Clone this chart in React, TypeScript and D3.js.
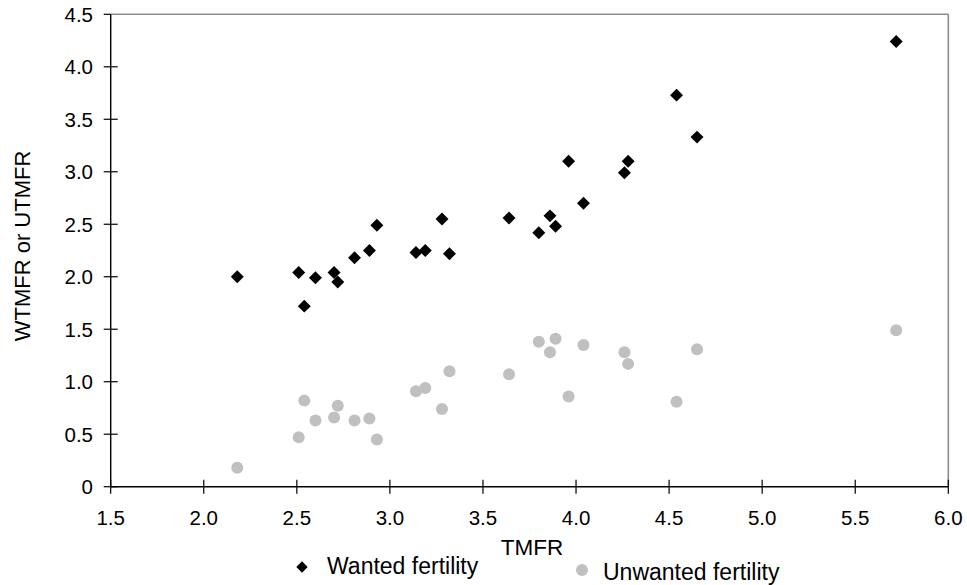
import React from 'react'
import * as d3 from 'd3'

// TMFR (x) with wanted / unwanted fertility (y)
const tmfr = [2.18, 2.51, 2.54, 2.60, 2.70, 2.72, 2.81, 2.89, 2.93, 3.14, 3.19, 3.28, 3.32,
  3.64, 3.80, 3.86, 3.89, 3.96, 4.04, 4.26, 4.28, 4.54, 4.65, 5.72]
const wanted = [2.00, 2.04, 1.72, 1.99, 2.04, 1.95, 2.18, 2.25, 2.49, 2.23, 2.25, 2.55, 2.22,
  2.56, 2.42, 2.58, 2.48, 3.10, 2.70, 2.99, 3.10, 3.73, 3.33, 4.24]
const unwanted = [0.18, 0.47, 0.82, 0.63, 0.66, 0.77, 0.63, 0.65, 0.45, 0.91, 0.94, 0.74, 1.10,
  1.07, 1.38, 1.28, 1.41, 0.86, 1.35, 1.28, 1.17, 0.81, 1.31, 1.49]

const xTicks = [1.5, 2.0, 2.5, 3.0, 3.5, 4.0, 4.5, 5.0, 5.5, 6.0]
const yTicks = [0, 0.5, 1.0, 1.5, 2.0, 2.5, 3.0, 3.5, 4.0, 4.5]

const W = 967, H = 585
const left = 110.7, right = 948.3, top = 14.3, bottom = 486.7
const font = '"Liberation Sans", Arial, sans-serif'

export default function App() {
  const x = d3.scaleLinear().domain([1.5, 6.0]).range([left, right])
  const y = d3.scaleLinear().domain([0, 4.5]).range([bottom, top])
  const diamond = d3.symbol().type(d3.symbolSquare).size(84)()
  const legendDiamond = d3.symbol().type(d3.symbolSquare).size(64)()

  const fmt = (v: number) => (v === 0 ? '0' : v.toFixed(1))

  return (
    <svg width={W} height={H} style={{ position: 'absolute', left: 0, top: 0 }} fontFamily={font}>
      <rect width={W} height={H} fill="#fff" />
      {/* frame: grey top and right */}
      <line x1={left} x2={right} y1={top} y2={top} stroke="#8c8c8c" strokeWidth={1.6} />
      <line x1={right} x2={right} y1={top} y2={bottom} stroke="#8c8c8c" strokeWidth={1.6} />
      {/* axes */}
      <line x1={left} x2={left} y1={top} y2={bottom} stroke="#000" strokeWidth={1.4} />
      <line x1={left} x2={right} y1={bottom} y2={bottom} stroke="#000" strokeWidth={1.4} />
      {yTicks.map(t => (
        <g key={'y' + t}>
          <line x1={left - 7} x2={t === 4.5 ? left : left + 7} y1={y(t)} y2={y(t)} stroke="#000" strokeWidth={1.2} />
          <text x={93} y={y(t) + 7.5} textAnchor="end" fontSize={20.5} fill="#000">{fmt(t)}</text>
        </g>
      ))}
      {xTicks.map(t => (
        <g key={'x' + t}>
          <line x1={x(t)} x2={x(t)} y1={bottom - 7} y2={bottom + 7} stroke="#000" strokeWidth={1.2} />
          <text x={x(t)} y={bottom + 38} textAnchor="middle" fontSize={20.5} fill="#000">{fmt(t)}</text>
        </g>
      ))}
      {/* points */}
      {tmfr.map((t, i) => (
        <circle key={'u' + i} cx={x(t)} cy={y(unwanted[i])} r={6} fill="#c0c0c0" />
      ))}
      {tmfr.map((t, i) => (
        <path key={'w' + i} d={diamond!} transform={`translate(${x(t)},${y(wanted[i])}) rotate(45)`} fill="#000" />
      ))}
      {/* titles */}
      <text x={532} y={555} textAnchor="middle" fontSize={22.5} fill="#000">TMFR</text>
      <text transform="translate(30,246) rotate(-90)" textAnchor="middle" fontSize={22} fill="#000">WTMFR or UTMFR</text>
      {/* legend */}
      <path d={legendDiamond!} transform="translate(302,567) rotate(45)" fill="#000" />
      <text x={327} y={574} fontSize={23} fill="#000">Wanted fertility</text>
      <circle cx={582} cy={570} r={6} fill="#c0c0c0" />
      <text x={603} y={580} fontSize={23} fill="#000">Unwanted fertility</text>
    </svg>
  )
}
